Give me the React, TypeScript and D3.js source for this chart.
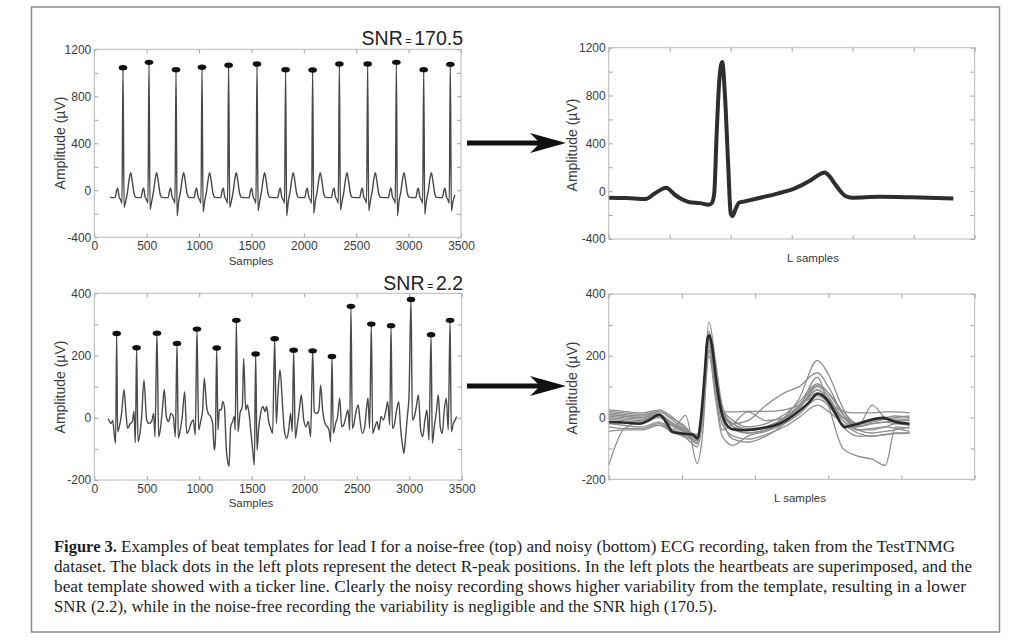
import { useEffect, useRef } from 'react';
import * as d3 from 'd3';

// ---- noise-free recording (SNR 170.5) ----
const topPeakX = [274, 522, 780, 1028, 1282, 1553, 1826, 2084, 2339, 2609, 2883, 3144, 3398];
const topPeakV = [1044, 1089, 1027, 1047, 1064, 1075, 1027, 1024, 1075, 1075, 1089, 1027, 1072];
const topSValues = [-145, -162, -218, -184, -145, -173, -218, -196, -167, -173, -218, -204, -176];
// beat shape read around each R peak (offsets in samples)
const topPreOffsets = [-76, -60, -51, -38, -22, -10];
const topPreValues = [-62, 3, 17, -54, -82, -110];
const topSOffset = 10;
const topPostOffsets = [25, 45, 60, 73, 89, 105, 124];
const topPostValues = [-97, 0, 100, 150, 73, -25, -60];
const topStart: [number, number] = [150, -60];
const topEnd: [number, number] = [3443, -40];

// template of the noise-free beat (L samples)
const templateTopX = [0, 30, 60, 76, 94, 109, 120, 131, 150, 164, 169, 173, 177, 181, 186, 191, 196, 200, 203, 208, 214, 223, 256, 278, 305, 332, 349, 354, 360, 374, 388, 399, 443, 497, 565];
const templateTopV = [-55, -58, -66, -18, 29, -32, -68, -90, -100, -113, -100, -18, 484, 902, 1080, 762, 205, -185, -207, -150, -95, -85, -46, -18, 24, 94, 149, 157, 135, 38, -40, -54, -46, -51, -62];

// ---- noisy recording (SNR 2.2) ----
const bottomPeakX = [213, 403, 597, 788, 978, 1166, 1353, 1537, 1718, 1899, 2080, 2264, 2445, 2639, 2827, 3017, 3208, 3389];
const bottomPeakV = [271, 225, 272, 239, 285, 224, 313, 205, 254, 217, 215, 197, 358, 301, 296, 380, 267, 313];
const bottomWave: [number, number][] = [
  [133, -2], [159, -18], [175, -9], [191, -55], [203, -82],
  [222, -45], [238, -29], [260, 14], [283, 91], [302, 14], [318, -34], [340, -20], [362, -12], [378, 20], [391, -80],
  [416, -77], [435, -50], [451, 4], [473, 121], [499, -7], [521, -18], [546, -12], [565, 14], [578, -61],
  [613, -61], [632, -29], [648, 25], [667, 91], [686, 4], [708, -12], [730, 14], [753, 4], [772, -61],
  [800, -66], [819, -39], [838, 4], [861, 84], [880, -50], [902, -39], [921, -18], [943, -7], [962, -55],
  [994, -39], [1013, -12], [1032, 25], [1048, 127], [1070, 36], [1086, 14], [1108, 4], [1127, -18], [1143, -104], [1153, -77],
  [1178, -39], [1191, 27], [1210, 25], [1223, 52], [1239, 36], [1258, -104], [1274, -146], [1283, -157], [1299, -29], [1318, -12], [1334, 4], [1343, -39],
  [1369, -45], [1388, 14], [1410, 36], [1423, 191], [1442, 25], [1458, 41], [1474, 14], [1490, -39], [1509, -104], [1525, -152],
  [1550, -104], [1566, -34], [1585, 14], [1607, 36], [1626, 20], [1642, 36], [1661, -12], [1680, -34], [1699, -50],
  [1734, -18], [1750, 79], [1769, 154], [1794, 36], [1810, -39], [1833, -66], [1852, -39], [1870, 14], [1886, -45],
  [1915, -66], [1934, -23], [1953, 25], [1972, 73], [1995, -7], [2017, -29], [2039, -12], [2061, -61],
  [2096, 20], [2118, 14], [2140, 25], [2156, 105], [2175, 25], [2198, -18], [2220, -29], [2236, -39], [2252, -77],
  [2277, -50], [2299, -18], [2318, 4], [2338, 63], [2357, -29], [2376, -23], [2398, 4], [2417, 25], [2433, -39],
  [2458, -34], [2474, -18], [2493, 20], [2515, 41], [2531, -7], [2553, -50], [2576, -29], [2595, 36], [2607, 63], [2623, -34],
  [2652, -50], [2674, -29], [2693, -12], [2712, -39], [2731, 4], [2754, -7], [2779, 25], [2795, 52], [2814, -23],
  [2839, -34], [2858, -23], [2880, 25], [2900, 52], [2919, -39], [2938, -93], [2950, -114], [2966, -61], [2982, 4], [2998, 68],
  [3030, -7], [3049, 4], [3068, 36], [3087, 73], [3109, -39], [3128, -61], [3150, -7], [3169, 25], [3188, -72],
  [3220, -82], [3239, -29], [3261, 25], [3277, 73], [3296, -29], [3315, -50], [3334, 25], [3353, 63], [3372, -39],
  [3401, -45], [3420, -18], [3439, -7], [3452, 4],
];

// template of the noisy beat (thick line)
const templateBottomX = [0, 19, 42, 55, 69, 80, 87, 101, 115, 121, 126, 131, 135, 137.5, 141, 146.6, 153, 160, 169, 187, 210, 233, 256, 274, 285.5, 297, 310, 322, 333, 356, 374, 392, 411];
const templateBottomV = [-14, -16, -20, -9, 9, -20, -47, -52, -55, -68, -3, 137, 255, 266, 234, 126, 29, -20, -38, -41, -34, -20, 13, 50, 77, 61, 13, -31, -25, -9, -1, -14, -20];

// superimposed single beats, read at these L samples
const beatGridX = [0, 20, 45, 69, 85, 105, 121, 128, 137, 146, 155, 170, 190, 215, 240, 260, 285, 300, 320, 340, 360, 378, 392, 411];
const noisyBeats: number[][] = [
  [-155, -40, -10, 5, -25, -45, -60, 20, 230, 120, 20, -20, -40, -35, -10, 30, 90, 60, 0, -30, -20, -15, -20, -25],
  [10, 5, 0, 15, -47, 7, -149, -60, 215, 110, 30, -10, -30, -20, 10, 50, 110, 80, 20, -20, -10, 0, 5, 0],
  [20, 15, 10, 20, 0, -30, -70, 40, 310, 180, 40, -30, -50, -40, 0, 60, 185, 140, 30, -40, -50, -45, -40, -30],
  [25, 20, 15, 25, 5, -35, -60, 30, 280, 140, 20, 18, 20, 20, 25, 40, 70, 50, 20, 15, 15, 18, 18, 15],
  [0, -5, -10, 5, -20, -50, -85, 10, 250, 100, -20, -60, -70, -55, -30, 0, 40, 20, -20, -50, -60, -55, -52, -50],
  [-20, -25, -30, -15, -35, -55, -75, 20, 240, 110, 0, -70, -80, -60, -20, 30, 130, 40, -100, -125, -135, -155, -30, -35],
  [10, 5, 0, 10, -15, -40, -55, 30, 260, 130, 10, -20, -10, 40, 80, 100, 145, 100, 10, -40, -40, -30, -35, -45],
  [-30, -35, -35, -20, -40, -60, -80, 0, 220, 80, -40, -20, 18, -10, 0, 30, 100, 70, -10, -30, 40, 0, -5, -5],
  [-45, -40, -40, -25, -45, -65, -95, -20, 200, 60, -60, -90, -60, -45, -20, 10, 60, 40, -30, -60, -60, -55, -50, -50],
  [15, 10, 5, 20, -5, -40, -65, 40, 270, 150, 30, -30, -40, -30, 0, 40, 105, 80, 10, -25, -20, -15, -10, -10],
  [-5, -10, -15, 0, -25, -50, -70, 30, 255, 120, 10, -40, -50, -40, -15, 30, 90, 60, -10, -40, -35, -30, -20, -20],
  [5, 0, -5, 10, -15, -45, -60, 35, 265, 130, 15, -20, -35, -30, -5, 35, 80, 55, 0, -20, -15, -5, 0, 5],
];

// ---- ticks ----
const sampleTicks = [0, 500, 1000, 1500, 2000, 2500, 3000, 3500];
const topAmpTicks = [-400, -200, 0, 200, 400, 600, 800, 1000, 1200];
const topAmpLabels = [-400, 0, 400, 800, 1200];
const bottomAmpTicks = [-200, -100, 0, 100, 200, 300, 400];
const bottomAmpLabels = [-200, 0, 200, 400];
const lTicksTop = [0, 100, 200, 300, 400, 500, 600];
const lTicksBottom = [0, 100, 200, 300, 400, 500];

const captionLines = [
  'Examples of beat templates for lead I for a noise-free (top) and noisy (bottom) ECG recording, taken from the TestTNMG',
  'dataset. The black dots in the left plots represent the detect R-peak positions. In the left plots the heartbeats are superimposed, and the',
  'beat template showed with a ticker line. Clearly the noisy recording shows higher variability from the template, resulting in a lower',
  'SNR (2.2), while in the noise-free recording the variability is negligible and the SNR high (170.5).',
];

const SANS = '"Liberation Sans", Arial, sans-serif';
const SERIF = '"Liberation Serif", "Times New Roman", serif';

interface Panel {
  left: number; right: number; top: number; bottom: number;
  xDomain: [number, number]; yDomain: [number, number];
  xTicks: number[]; xLabels: boolean;
  yTicks: number[]; yLabels: number[];
}

function buildTopTrace(): [number, number][] {
  const pts: [number, number][] = [topStart];
  topPeakX.forEach((r, i) => {
    topPreOffsets.forEach((o, k) => pts.push([r + o, topPreValues[k]]));
    pts.push([r, topPeakV[i]]);
    pts.push([r + topSOffset, topSValues[i]]);
    topPostOffsets.forEach((o, k) => pts.push([r + o, topPostValues[k]]));
  });
  return pts.filter(p => p[0] >= topStart[0] && p[0] < topEnd[0] - 5).concat([topEnd]);
}

function drawPanel(svg: d3.Selection<SVGSVGElement, unknown, null, undefined>, p: Panel) {
  const x = d3.scaleLinear().domain(p.xDomain).range([p.left, p.right]);
  const y = d3.scaleLinear().domain(p.yDomain).range([p.bottom, p.top]);
  const g = svg.append('g');

  g.append('rect')
    .attr('x', p.left).attr('y', p.top)
    .attr('width', p.right - p.left).attr('height', p.bottom - p.top)
    .attr('fill', '#fff');

  const style = (sel: d3.Selection<SVGGElement, unknown, null, undefined>) => {
    sel.select('.domain').remove();
    sel.selectAll('line').attr('stroke', '#a0a0a0');
    sel.selectAll('text').attr('fill', '#3a3a3a').attr('font-size', 12).attr('font-family', SANS);
  };

  g.append('g').attr('transform', `translate(0,${p.bottom})`)
    .call(d3.axisBottom(x).tickValues(p.xTicks).tickSizeInner(-4).tickSizeOuter(0).tickPadding(4)
      .tickFormat(d => (p.xLabels ? String(d) : '')))
    .call(style);
  g.append('g').attr('transform', `translate(0,${p.top})`)
    .call(d3.axisTop(x).tickValues(p.xTicks).tickSizeInner(-4).tickSizeOuter(0).tickFormat(() => ''))
    .call(style);
  g.append('g').attr('transform', `translate(${p.left},0)`)
    .call(d3.axisLeft(y).tickValues(p.yTicks).tickSizeInner(-4).tickSizeOuter(0).tickPadding(3)
      .tickFormat(d => (p.yLabels.includes(+d) ? String(d) : '')))
    .call(style);
  g.append('g').attr('transform', `translate(${p.right},0)`)
    .call(d3.axisRight(y).tickValues(p.yTicks).tickSizeInner(-4).tickSizeOuter(0).tickFormat(() => ''))
    .call(style);

  const plot = svg.append('g');
  const box = () => svg.append('rect')
    .attr('x', p.left).attr('y', p.top)
    .attr('width', p.right - p.left).attr('height', p.bottom - p.top)
    .attr('fill', 'none').attr('stroke', '#b8b8b8').attr('stroke-width', 1);

  return { x, y, plot, box };
}

function addYLabel(svg: d3.Selection<SVGSVGElement, unknown, null, undefined>, cx: number, cy: number) {
  svg.append('text')
    .attr('transform', `translate(${cx},${cy}) rotate(-90)`)
    .attr('text-anchor', 'middle')
    .attr('dominant-baseline', 'central')
    .attr('font-family', SANS)
    .attr('font-size', 14)
    .attr('fill', '#3a3a3a')
    .text('Amplitude (µV)');
}

function addXLabel(svg: d3.Selection<SVGSVGElement, unknown, null, undefined>, cx: number, cy: number, label: string) {
  svg.append('text')
    .attr('x', cx).attr('y', cy)
    .attr('text-anchor', 'middle')
    .attr('dominant-baseline', 'central')
    .attr('font-family', SANS)
    .attr('font-size', 11.5)
    .attr('fill', '#3a3a3a')
    .text(label);
}

function addSnr(svg: d3.Selection<SVGSVGElement, unknown, null, undefined>, xr: number, yb: number, value: string) {
  const t = svg.append('text')
    .attr('x', xr).attr('y', yb)
    .attr('text-anchor', 'end')
    .attr('font-family', SANS)
    .attr('font-size', 19.5)
    .attr('fill', '#222');
  t.append('tspan').text('SNR');
  t.append('tspan').attr('font-size', 10).text(' = ');
  t.append('tspan').text(value);
}

function addArrow(svg: d3.Selection<SVGSVGElement, unknown, null, undefined>, x0: number, x1: number, yc: number) {
  svg.append('line')
    .attr('x1', x0).attr('x2', x1 - 22)
    .attr('y1', yc).attr('y2', yc)
    .attr('stroke', '#111').attr('stroke-width', 5);
  svg.append('path')
    .attr('d', `M${x1},${yc} L${x1 - 36},${yc - 10} L${x1 - 26},${yc} L${x1 - 36},${yc + 10} Z`)
    .attr('fill', '#111');
}

export default function App() {
  const svgRef = useRef<SVGSVGElement>(null);

  useEffect(() => {
    if (!svgRef.current) return;
    const svg = d3.select(svgRef.current);
    svg.selectAll('*').remove();

    svg.append('rect').attr('width', 1024).attr('height', 640).attr('fill', '#fff');
    svg.append('rect')
      .attr('x', 31.5).attr('y', 7).attr('width', 968).attr('height', 625)
      .attr('fill', 'none').attr('stroke', '#8c8c8c').attr('stroke-width', 1.5);

    const line = (x: d3.ScaleLinear<number, number>, y: d3.ScaleLinear<number, number>) =>
      d3.line<[number, number]>().x(d => x(d[0])).y(d => y(d[1])).curve(d3.curveMonotoneX);

    // top-left: noise-free recording
    const tl = drawPanel(svg, {
      left: 94.3, right: 461, top: 49.3, bottom: 237.3,
      xDomain: [0, 3500], yDomain: [-400, 1200],
      xTicks: sampleTicks, xLabels: true, yTicks: topAmpTicks, yLabels: topAmpLabels,
    });
    tl.plot.append('path')
      .datum(buildTopTrace())
      .attr('fill', 'none').attr('stroke', '#484848').attr('stroke-width', 1.4)
      .attr('stroke-linejoin', 'round')
      .attr('d', line(tl.x, tl.y));
    tl.plot.selectAll('ellipse')
      .data(topPeakX)
      .join('ellipse')
      .attr('cx', d => tl.x(d))
      .attr('cy', (_, i) => tl.y(topPeakV[i]))
      .attr('rx', 4.3).attr('ry', 2.7)
      .attr('fill', '#111');
    tl.box();

    // top-right: noise-free template
    const tr = drawPanel(svg, {
      left: 608.7, right: 974.7, top: 47.7, bottom: 239,
      xDomain: [0, 600], yDomain: [-400, 1200],
      xTicks: lTicksTop, xLabels: false, yTicks: topAmpTicks, yLabels: topAmpLabels,
    });
    tr.plot.append('path')
      .datum(templateTopX.map((v, i) => [v, templateTopV[i]] as [number, number]))
      .attr('fill', 'none').attr('stroke', '#2e2e2e').attr('stroke-width', 4)
      .attr('stroke-linejoin', 'round')
      .attr('d', line(tr.x, tr.y));
    tr.box();

    // bottom-left: noisy recording
    const bl = drawPanel(svg, {
      left: 94.3, right: 461.7, top: 293.3, bottom: 480,
      xDomain: [0, 3500], yDomain: [-200, 400],
      xTicks: sampleTicks, xLabels: true, yTicks: bottomAmpTicks, yLabels: bottomAmpLabels,
    });
    const bottomTrace = bottomWave
      .concat(bottomPeakX.map((v, i) => [v, bottomPeakV[i]] as [number, number]))
      .sort((a, b) => a[0] - b[0]);
    bl.plot.append('path')
      .datum(bottomTrace)
      .attr('fill', 'none').attr('stroke', '#4a4a4a').attr('stroke-width', 1.4)
      .attr('stroke-linejoin', 'round')
      .attr('d', line(bl.x, bl.y));
    bl.plot.selectAll('ellipse')
      .data(bottomPeakX)
      .join('ellipse')
      .attr('cx', d => bl.x(d))
      .attr('cy', (_, i) => bl.y(bottomPeakV[i]))
      .attr('rx', 4.3).attr('ry', 2.7)
      .attr('fill', '#111');
    bl.box();

    // bottom-right: noisy beats superimposed + template
    const br = drawPanel(svg, {
      left: 608.7, right: 974.7, top: 294, bottom: 479.3,
      xDomain: [0, 500], yDomain: [-200, 400],
      xTicks: lTicksBottom, xLabels: false, yTicks: bottomAmpTicks, yLabels: bottomAmpLabels,
    });
    br.plot.selectAll('path.beat')
      .data(noisyBeats)
      .join('path')
      .attr('class', 'beat')
      .attr('fill', 'none').attr('stroke', '#8e8e8e').attr('stroke-width', 1.3)
      .attr('d', d => line(br.x, br.y)(d.map((v, i) => [beatGridX[i], v] as [number, number])));
    br.plot.append('path')
      .datum(templateBottomX.map((v, i) => [v, templateBottomV[i]] as [number, number]))
      .attr('fill', 'none').attr('stroke', '#2a2a2a').attr('stroke-width', 2.6)
      .attr('stroke-linejoin', 'round')
      .attr('d', line(br.x, br.y));
    br.box();

    addYLabel(svg, 60, 143);
    addYLabel(svg, 60, 387);
    addYLabel(svg, 572, 145);
    addYLabel(svg, 572, 388);
    addXLabel(svg, 251, 261, 'Samples');
    addXLabel(svg, 251, 503, 'Samples');
    addXLabel(svg, 813, 258, 'L samples');
    addXLabel(svg, 800, 498, 'L samples');
    addSnr(svg, 463, 45, '170.5');
    addSnr(svg, 463, 290, '2.2');
    addArrow(svg, 467, 566, 143);
    addArrow(svg, 467, 566, 386);

    // caption
    const cap = svg.append('g').attr('font-family', SERIF).attr('font-size', 16).attr('fill', '#1e1e1e');
    cap.append('text').attr('x', 54).attr('y', 552).attr('font-weight', 'bold')
      .attr('textLength', 63).attr('lengthAdjust', 'spacingAndGlyphs').text('Figure 3.');
    const ends = [955, 972, 966, 717];
    captionLines.forEach((txt, i) => {
      const x0 = i === 0 ? 121 : 54;
      cap.append('text')
        .attr('x', x0).attr('y', 552 + i * 20)
        .attr('textLength', ends[i] - x0).attr('lengthAdjust', 'spacingAndGlyphs')
        .text(txt);
    });
  }, []);

  return (
    <div style={{ position: 'absolute', left: 0, top: 0, width: 1024, height: 640 }}>
      <svg ref={svgRef} width={1024} height={640} style={{ display: 'block' }} />
    </div>
  );
}
